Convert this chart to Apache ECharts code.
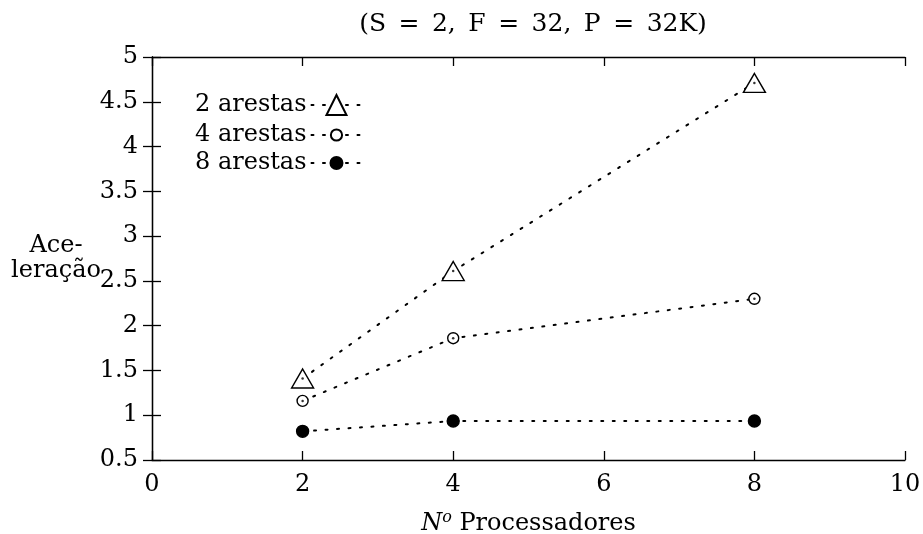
<!DOCTYPE html>
<html><head><meta charset="utf-8">
<script src="https://cdn.jsdelivr.net/npm/echarts@6/dist/echarts.min.js"></script>
<style>html,body{margin:0;padding:0;background:#fff}#c{width:923px;height:534px}</style>
</head><body><div id="c"></div>
<script>
const xValues = [2, 4, 8];
const series2 = [1.41, 2.61, 4.71];
const series4 = [1.16, 1.86, 2.30];
const series8 = [0.82, 0.935, 0.935];
const seriesNames = ['2 arestas', '4 arestas', '8 arestas'];
const titleText = '(S\u2002=\u20022,\u2002F\u2002=\u200232,\u2002P\u2002=\u200232K)';
const yName = 'Ace-\nleração';

const FONT = 'DejaVu Serif';
const FS = 24;
const pts = arr => xValues.map((x, i) => [x, arr[i]]);
const lineStyle = { color: '#000', width: 2, type: [2, 9.5], cap: 'round' };
function mk(name, data, symbol, size, fill) {
  return {
    name, type: 'line', data: pts(data), symbol, symbolSize: size,
    lineStyle, itemStyle: { color: fill, borderColor: '#000', borderWidth: 1.4 },
    z: 3
  };
}
const dotSeries = arr => ({ type: 'scatter', data: pts(arr), symbol: 'circle', symbolSize: 2.5,
  itemStyle: { color: '#000' }, z: 5, silent: true });
const tick = { show: true, inside: true, length: 9, lineStyle: { color: '#000', width: 1.3 } };
const aLine = { show: true, lineStyle: { color: '#000', width: 1.3 } };
const legendOf = (name, top, h) => ({
  data: [name], orient: 'vertical', left: 190, top, align: 'right',
  itemWidth: 50, itemHeight: h, itemGap: 0,
  textStyle: { fontFamily: FONT, fontSize: FS, color: '#000' }
});

const chart = echarts.init(document.getElementById('c'));
chart.setOption({
  animation: false,
  backgroundColor: '#fff',
  title: { text: titleText, left: 528, textAlign: 'center', top: 7, textStyle: { fontFamily: FONT, fontSize: 25, fontWeight: 'normal', color: '#000' } },
  grid: { left: 152, right: 18, top: 57, bottom: 74, show: false, containLabel: false, outerBoundsMode: 'none' },
  legend: [
    legendOf(seriesNames[0], 88, 25),
    legendOf(seriesNames[1], 118, 14),
    legendOf(seriesNames[2], 146, 15)
  ],
  xAxis: [{
    type: 'value', min: 0, max: 10, interval: 2, position: 'bottom',
    name: '{i|N}{s|o} Processadores', nameLocation: 'middle', nameGap: 50,
    nameTextStyle: { fontFamily: FONT, fontSize: FS, color: '#000',
      rich: { i: { fontFamily: FONT, fontStyle: 'italic', fontSize: FS }, s: { fontFamily: FONT, fontStyle: 'italic', fontSize: 16, verticalAlign: 'top', padding: [0, 0, 12, 0] } } },
    axisLine: aLine, axisTick: tick,
    axisLabel: { fontFamily: FONT, fontSize: FS, color: '#000', margin: 13 },
    splitLine: { show: false }
  }, {
    type: 'value', min: 0, max: 10, interval: 2, position: 'top',
    axisLine: aLine, axisTick: tick,
    axisLabel: { show: false }, splitLine: { show: false }
  }],
  yAxis: [{
    type: 'value', min: 0.5, max: 5, interval: 0.5, position: 'left',
    name: yName, nameLocation: 'middle', nameRotate: 0, nameGap: 96, nameMoveOverlap: false,
    nameTextStyle: { fontFamily: FONT, fontSize: FS, color: '#000', align: 'center', lineHeight: 25 },
    axisLine: aLine, axisTick: tick,
    axisLabel: { fontFamily: FONT, fontSize: FS, color: '#000', margin: 14 },
    splitLine: { show: false }
  }, {
    type: 'value', min: 0.5, max: 5, interval: 0.5, position: 'right',
    axisLine: aLine, axisTick: tick,
    axisLabel: { show: false }, splitLine: { show: false }
  }],
  series: [
    mk(seriesNames[0], series2, 'triangle', [22, 19], '#fff'),
    mk(seriesNames[1], series4, 'circle', 11, '#fff'),
    mk(seriesNames[2], series8, 'circle', 12, '#000'),
    dotSeries(series2), dotSeries(series4)
  ]
});
</script></body></html>
